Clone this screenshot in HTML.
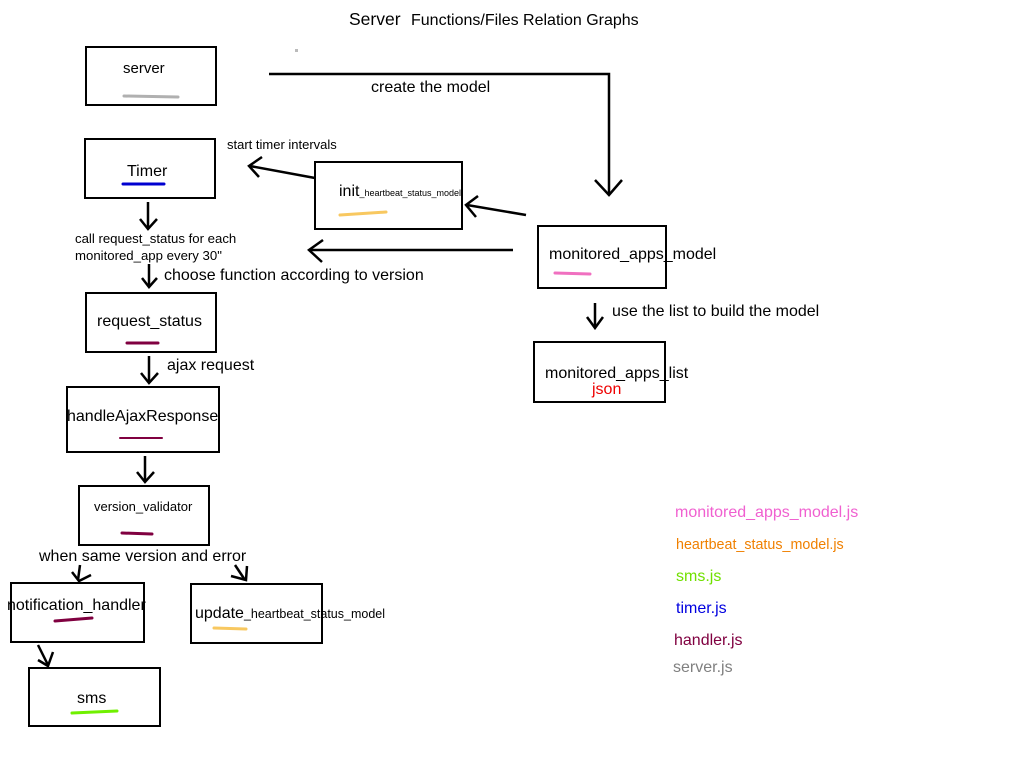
<!DOCTYPE html>
<html><head><meta charset="utf-8"><style>
html,body{margin:0;padding:0;background:#fff;}
svg{display:block;font-family:"Liberation Sans",sans-serif;}
</style></head><body>
<svg width="1024" height="768" viewBox="0 0 1024 768" xmlns="http://www.w3.org/2000/svg">
<rect width="1024" height="768" fill="#fff"/>
<text x="349" y="25" font-size="17.5">Server</text>
<text x="411" y="25" font-size="16">Functions/Files Relation Graphs</text>
<rect x="295" y="49" width="3" height="3" fill="#bbb"/>
<g fill="none" stroke="#000" stroke-width="2">
<rect x="86" y="47" width="130" height="58"/>
<rect x="85" y="139" width="130" height="59"/>
<rect x="315" y="162" width="147" height="67"/>
<rect x="538" y="226" width="128" height="62"/>
<rect x="86" y="293" width="130" height="59"/>
<rect x="534" y="342" width="131" height="60"/>
<rect x="67" y="387" width="152" height="65"/>
<rect x="79" y="486" width="130" height="59"/>
<rect x="11" y="583" width="133" height="59"/>
<rect x="191" y="584" width="131" height="59"/>
<rect x="29" y="668" width="131" height="58"/>
</g>
<g fill="none" stroke="#000" stroke-width="2.5">
<polyline points="269,74 609,74 609,195"/>
<polyline points="595,180 609,195 622,180"/>
<line x1="315" y1="178" x2="250" y2="166"/>
<polyline points="262,157 249,166 259,177"/>
<line x1="526" y1="215" x2="467" y2="205"/>
<polyline points="478,196 466,205 476,217"/>
<line x1="513" y1="250" x2="310" y2="250"/>
<polyline points="323,240 309,250 322,262"/>
<line x1="148" y1="202" x2="148" y2="228"/>
<polyline points="140,219 148,229 157,219"/>
<line x1="149" y1="264" x2="149" y2="286"/>
<polyline points="142,278 149,287 157,278"/>
<line x1="149" y1="356" x2="149" y2="382"/>
<polyline points="141,373 149,383 158,373"/>
<line x1="145" y1="456" x2="145" y2="481"/>
<polyline points="137,472 145,482 154,472"/>
<line x1="595" y1="303" x2="595" y2="327"/>
<polyline points="587,317 595,328 603,317"/>
<line x1="80" y1="565" x2="78" y2="580"/>
<polyline points="72,572 79,581 91,575"/>
<line x1="235" y1="565" x2="245" y2="580"/>
<polyline points="231,576 246,580 247,566"/>
<line x1="38" y1="645" x2="48" y2="665"/>
<polyline points="38,660 48,666 53,652"/>
</g>
<g font-size="16" fill="#000">
<text x="123" y="73" font-size="15">server</text>
<text x="127" y="176">Timer</text>
<text x="339" y="196">init<tspan font-size="9">_heartbeat_status_model</tspan></text>
<text x="549" y="259">monitored_apps_model</text>
<text x="97" y="326">request_status</text>
<text x="545" y="378">monitored_apps_list</text>
<text x="592" y="394" fill="#e00">json</text>
<text x="67" y="421">handleAjaxResponse</text>
<text x="94" y="511" font-size="13">version_validator</text>
<text x="7" y="610">notification_handler</text>
<text x="195" y="618">update<tspan font-size="12.5">_heartbeat_status_model</tspan></text>
<text x="77" y="703">sms</text>
<text x="371" y="92">create the model</text>
<text x="227" y="149" font-size="13">start timer intervals</text>
<text x="75" y="243" font-size="13.2">call request_status for each</text>
<text x="75" y="260" font-size="13.2">monitored_app every 30"</text>
<text x="164" y="280">choose function according to version</text>
<text x="167" y="370">ajax request</text>
<text x="612" y="316">use the list to build the model</text>
<text x="39" y="561">when same version and error</text>
<text x="675" y="517" fill="#f060d0">monitored_apps_model.js</text>
<text x="676" y="549" font-size="14.3" fill="#f08000">heartbeat_status_model.js</text>
<text x="676" y="581" fill="#70e000">sms.js</text>
<text x="676" y="613" fill="#0000e0">timer.js</text>
<text x="674" y="645" fill="#800040">handler.js</text>
<text x="673" y="672" fill="#808080">server.js</text>
</g>
<g fill="none" stroke-width="3" stroke-linecap="round">
<line x1="124" y1="96" x2="178" y2="97" stroke="#b0b0b0"/>
<line x1="123" y1="184" x2="164" y2="184" stroke="#0000d0"/>
<line x1="340" y1="215" x2="386" y2="212" stroke="#f8c860"/>
<line x1="555" y1="273" x2="590" y2="274" stroke="#f070c0"/>
<line x1="127" y1="343" x2="158" y2="343" stroke="#800040"/>
<line x1="120" y1="438" x2="162" y2="438" stroke="#800040" stroke-width="2"/>
<line x1="122" y1="533" x2="152" y2="534" stroke="#800040"/>
<line x1="55" y1="621" x2="92" y2="618" stroke="#800040"/>
<line x1="214" y1="628" x2="246" y2="629" stroke="#f8c860"/>
<line x1="72" y1="713" x2="117" y2="711" stroke="#70f000"/>
</g>
</svg>
</body></html>
